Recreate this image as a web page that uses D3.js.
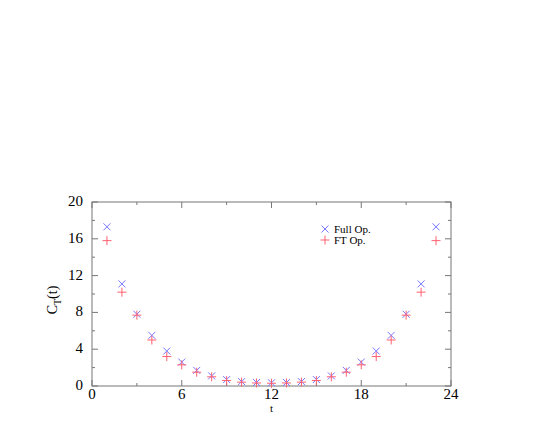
<!DOCTYPE html>
<html>
<head>
<meta charset="utf-8">
<script src="https://cdn.jsdelivr.net/npm/d3@7"></script>
<style>
  body { margin: 0; background: #fff; }
  text { font-family: "Liberation Serif", "DejaVu Serif", serif; }
</style>
</head>
<body>
<div id="chart"></div>
<script>
const tValues = [1,2,3,4,5,6,7,8,9,10,11,12,13,14,15,16,17,18,19,20,21,22,23];
const fullOp = [17.3,11.1,7.8,5.5,3.8,2.6,1.7,1.1,0.7,0.48,0.38,0.35,0.38,0.48,0.7,1.1,1.7,2.6,3.8,5.5,7.8,11.1,17.3];
const ftOp   = [15.8,10.2,7.7,5.0,3.2,2.3,1.5,1.0,0.6,0.42,0.33,0.3,0.33,0.42,0.6,1.0,1.5,2.3,3.2,5.0,7.7,10.2,15.8];
const xTicks = [0,6,12,18,24];
const yTicks = [0,4,8,12,16,20];

const W = 545, H = 436;
const margin = { left: 92, top: 202, right: 94, bottom: 50 };
const width = W - margin.left - margin.right;
const height = H - margin.top - margin.bottom;

const svg = d3.select("#chart").append("svg")
  .attr("width", W).attr("height", H);
const g = svg.append("g")
  .attr("transform", `translate(${margin.left},${margin.top})`);

const x = d3.scaleLinear().domain([0, 24]).range([0, width]);
const y = d3.scaleLinear().domain([0, 20]).range([height, 0]);

// frame
g.append("rect")
  .attr("width", width).attr("height", height)
  .attr("fill", "none").attr("stroke", "#777").attr("stroke-width", 1);

// inward ticks on all four sides (major + minor)
const tickColor = "#777";
d3.range(0, 25, 3).forEach(v => {
  const len = v % 6 === 0 ? 6 : 3;
  g.append("line").attr("x1", x(v)).attr("x2", x(v)).attr("y1", height).attr("y2", height - len).attr("stroke", tickColor);
  g.append("line").attr("x1", x(v)).attr("x2", x(v)).attr("y1", 0).attr("y2", len).attr("stroke", tickColor);
});
d3.range(0, 21, 2).forEach(v => {
  const len = v % 4 === 0 ? 6 : 3;
  g.append("line").attr("y1", y(v)).attr("y2", y(v)).attr("x1", 0).attr("x2", len).attr("stroke", tickColor);
  g.append("line").attr("y1", y(v)).attr("y2", y(v)).attr("x1", width).attr("x2", width - len).attr("stroke", tickColor);
});

// tick labels
g.selectAll(".xl").data(xTicks).enter().append("text")
  .attr("x", d => x(d)).attr("y", height + 13)
  .attr("text-anchor", "middle").style("font-size", "15px").attr("fill", "#000")
  .text(d => d);
g.selectAll(".yl").data(yTicks).enter().append("text")
  .attr("x", -9).attr("y", d => y(d) + 4)
  .attr("text-anchor", "end").style("font-size", "15px").attr("fill", "#000")
  .text(d => d);

// axis titles
g.append("text")
  .attr("x", x(12)).attr("y", height + 26)
  .attr("text-anchor", "middle").style("font-size", "11px").text("t");

const yTitle = svg.append("text")
  .attr("transform", `translate(57, 300) rotate(-90)`)
  .attr("text-anchor", "middle").style("font-size", "14px");
yTitle.append("tspan").text("C");
yTitle.append("tspan").attr("dy", 4).style("font-size", "10px").text("T");
yTitle.append("tspan").attr("dy", -4).text("(t)");

// markers
const blue = "#7777ff", red = "#ff6070";
const s = 3.5;
function cross(sel, cx, cy, color) {
  sel.append("path")
    .attr("d", `M${cx - s},${cy - s}L${cx + s},${cy + s}M${cx - s},${cy + s}L${cx + s},${cy - s}`)
    .attr("stroke", color).attr("stroke-width", 1).attr("fill", "none");
}
function plus(sel, cx, cy, color) {
  const p = 4.5;
  sel.append("path")
    .attr("d", `M${cx - p},${cy}L${cx + p},${cy}M${cx},${cy - p}L${cx},${cy + p}`)
    .attr("stroke", color).attr("stroke-width", 1).attr("fill", "none");
}

tValues.forEach((t, i) => {
  cross(g, x(t), y(fullOp[i]), blue);
  plus(g, x(t), y(ftOp[i]), red);
});

// legend
const lg = svg.append("g").attr("transform", "translate(325,229)");
cross(lg, 0, 0, blue);
lg.append("text").attr("x", 9).attr("y", 4).style("font-size", "11px").text("Full Op.");
plus(lg, 0, 11, red);
lg.append("text").attr("x", 9).attr("y", 15).style("font-size", "11px").text("FT Op.");
</script>
</body>
</html>
